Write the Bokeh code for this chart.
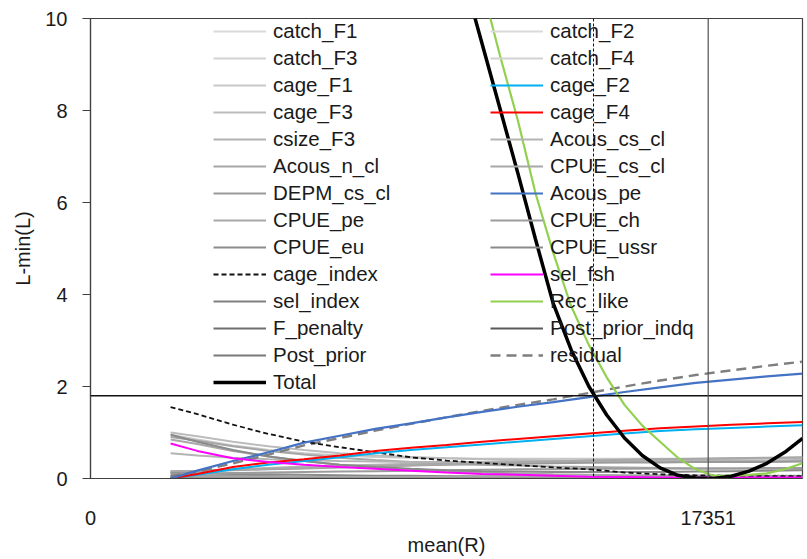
from bokeh.plotting import figure
from bokeh.models import Range1d, FixedTicker, Legend, LegendItem, Span
from bokeh.embed import file_html
from bokeh.resources import INLINE

# ---------------- data ----------------
R = [2250, 3000, 4000, 5000, 6000, 7000, 8000, 9000, 10000, 11000, 12000,
     13000, 14000, 15000, 16000, 17000, 18000, 19000, 20000]
R_fine = [10000, 10500, 11000, 11500, 12000, 12500, 13000, 13500, 14000, 14500,
          15000, 15500, 16000, 16500, 17000, 17500, 18000, 18500, 19000, 19500, 20000]

catch_F1 = [0.01] * 19
catch_F2 = [0.0] * 19
catch_F3 = [0.03, 0.03, 0.03, 0.03, 0.03, 0.03, 0.03, 0.03, 0.02, 0.02, 0.02, 0.02, 0.02, 0.02, 0.02, 0.02, 0.02, 0.02, 0.02]
catch_F4 = [0.02] * 19
cage_F1 = [0.95, 0.85, 0.72, 0.62, 0.55, 0.5, 0.47, 0.45, 0.44, 0.43, 0.43, 0.43, 0.43, 0.43, 0.43, 0.43, 0.44, 0.44, 0.45]
cage_F2 = [0.0, 0.08, 0.2, 0.3, 0.38, 0.46, 0.55, 0.62, 0.68, 0.74, 0.8, 0.86, 0.92, 0.98, 1.03, 1.07, 1.1, 1.13, 1.16]
cage_F3 = [1.0, 0.92, 0.8, 0.7, 0.62, 0.55, 0.5, 0.47, 0.44, 0.42, 0.4, 0.39, 0.38, 0.38, 0.37, 0.37, 0.37, 0.37, 0.38]
cage_F4 = [0.0, 0.1, 0.25, 0.35, 0.42, 0.5, 0.6, 0.67, 0.73, 0.8, 0.86, 0.92, 0.98, 1.04, 1.09, 1.13, 1.17, 1.2, 1.23]
csize_F3 = [0.15, 0.17, 0.2, 0.23, 0.26, 0.28, 0.3, 0.32, 0.33, 0.34, 0.35, 0.36, 0.37, 0.37, 0.38, 0.38, 0.39, 0.39, 0.4]
Acous_cs_cl = [0.55, 0.5, 0.45, 0.42, 0.4, 0.38, 0.37, 0.36, 0.36, 0.36, 0.37, 0.38, 0.39, 0.4, 0.41, 0.42, 0.43, 0.44, 0.45]
Acous_n_cl = [0.9, 0.82, 0.7, 0.6, 0.52, 0.45, 0.4, 0.36, 0.33, 0.3, 0.28, 0.26, 0.25, 0.24, 0.23, 0.22, 0.22, 0.21, 0.21]
CPUE_cs_cl = [0.16, 0.17, 0.19, 0.21, 0.23, 0.25, 0.27, 0.29, 0.31, 0.33, 0.35, 0.37, 0.39, 0.41, 0.42, 0.43, 0.44, 0.45, 0.46]
DEPM_cs_cl = [0.14, 0.15, 0.18, 0.2, 0.22, 0.24, 0.26, 0.28, 0.3, 0.31, 0.32, 0.33, 0.34, 0.35, 0.35, 0.36, 0.36, 0.36, 0.37]
Acous_pe = [0.0, 0.17, 0.38, 0.57, 0.78, 0.93, 1.08, 1.2, 1.33, 1.45, 1.56, 1.66, 1.77, 1.88, 1.98, 2.08, 2.15, 2.22, 2.28]
CPUE_pe = [0.85, 0.75, 0.6, 0.48, 0.38, 0.3, 0.24, 0.2, 0.16, 0.13, 0.11, 0.09, 0.08, 0.07, 0.06, 0.06, 0.05, 0.05, 0.05]
CPUE_ch = [0.1, 0.11, 0.12, 0.13, 0.14, 0.15, 0.16, 0.17, 0.18, 0.19, 0.2, 0.2, 0.21, 0.21, 0.22, 0.22, 0.22, 0.23, 0.23]
CPUE_eu = [0.12, 0.11, 0.1, 0.09, 0.08, 0.07, 0.06, 0.06, 0.05, 0.05, 0.05, 0.04, 0.04, 0.04, 0.04, 0.04, 0.04, 0.04, 0.04]
CPUE_ussr = [0.95, 0.8, 0.62, 0.48, 0.38, 0.3, 0.25, 0.21, 0.18, 0.16, 0.15, 0.14, 0.14, 0.14, 0.14, 0.15, 0.16, 0.17, 0.18]
cage_index = [1.55, 1.4, 1.17, 0.97, 0.8, 0.68, 0.57, 0.46, 0.39, 0.34, 0.29, 0.24, 0.2, 0.13, 0.09, 0.07, 0.06, 0.05, 0.05]
sel_fsh = [0.76, 0.6, 0.44, 0.36, 0.3, 0.25, 0.21, 0.17, 0.13, 0.1, 0.08, 0.06, 0.04, 0.03, 0.02, 0.02, 0.02, 0.02, 0.02]
sel_index = [0.05, 0.05, 0.05, 0.05, 0.04, 0.04, 0.04, 0.04, 0.04, 0.03, 0.03, 0.03, 0.03, 0.03, 0.03, 0.03, 0.03, 0.03, 0.03]
F_penalty = [0.0] * 19
Post_prior = [0.02] * 19
Post_prior_indq = [0.0] * 19
residual = [0.05, 0.15, 0.33, 0.52, 0.72, 0.88, 1.04, 1.19, 1.33, 1.47, 1.6, 1.72, 1.86, 2.0, 2.13, 2.25, 2.35, 2.45, 2.54]

Rec_like = [14.5, 12.4, 10.7, 9.2, 7.8, 6.2, 4.9, 3.75, 2.9, 2.2, 1.6, 1.15, 0.8, 0.45, 0.2, 0.06, 0.06, 0.08, 0.11, 0.2, 0.33]
Total = [12.4, 10.85, 9.45, 8.05, 6.65, 5.2, 3.8, 2.8, 2.0, 1.38, 0.88, 0.5, 0.23, 0.07, 0.01, 0.0, 0.05, 0.16, 0.33, 0.57, 0.87]

x_ticks = [0, 17351]
y_ticks = [0, 2, 4, 6, 8, 10]
R_best = 17351
R_ci_low = 14130
chi_level = 1.8

# ---------------- figure ----------------
FONT = "Liberation Sans"
TXT = "#1a1a1a"

p = figure(width=806, height=558, output_backend="svg", toolbar_location=None,
           x_range=Range1d(0, 20000), y_range=Range1d(0, 10),
           min_border_left=90, min_border_right=4, min_border_top=18, min_border_bottom=80)
p.xgrid.visible = False
p.ygrid.visible = False
p.outline_line_color = "#404040"
p.outline_line_width = 1.2
p.background_fill_color = "white"
p.border_fill_color = "white"

p.xaxis.ticker = FixedTicker(ticks=x_ticks)
p.yaxis.ticker = FixedTicker(ticks=y_ticks)
p.xaxis.axis_label = "mean(R)"
p.yaxis.axis_label = "L-min(L)"
for ax in (p.xaxis, p.yaxis):
    ax.axis_label_text_font = FONT
    ax.axis_label_text_font_size = "20px"
    ax.axis_label_text_font_style = "normal"
    ax.axis_label_text_color = TXT
    ax.major_label_text_font = FONT
    ax.major_label_text_font_size = "20px"
    ax.major_label_text_color = TXT
    ax.axis_line_color = "#404040"
    ax.axis_line_width = 1.2
    ax.minor_tick_line_color = None
    ax.major_tick_line_color = "#404040"
p.yaxis.major_tick_out = 8
p.yaxis.major_tick_in = 0
p.yaxis.major_label_standoff = 15
p.yaxis.axis_label_standoff = 8
p.xaxis.major_tick_out = 0
p.xaxis.major_tick_in = 0
p.xaxis.major_label_standoff = 32
p.xaxis.axis_label_standoff = 6

# reference lines
p.add_layout(Span(location=chi_level, dimension="width", line_color="#111111", line_width=1.5))
p.add_layout(Span(location=R_best, dimension="height", line_color="#505050", line_width=1.2))
p.add_layout(Span(location=R_ci_low, dimension="height", line_color="#111111", line_width=1, line_dash="3 2"))
p.line([R_ci_low, 20000], [0.07, 0.07], line_color="#333333", line_width=1, line_dash="2 2")

series_left = [
    ("catch_F1", catch_F1, "#dadada", "solid", 2),
    ("catch_F3", catch_F3, "#d2d2d2", "solid", 2),
    ("cage_F1", cage_F1, "#c8c8c8", "solid", 2),
    ("cage_F3", cage_F3, "#bcbcbc", "solid", 2),
    ("csize_F3", csize_F3, "#b2b2b2", "solid", 2),
    ("Acous_n_cl", Acous_n_cl, "#a6a6a6", "solid", 2),
    ("DEPM_cs_cl", DEPM_cs_cl, "#9a9a9a", "solid", 2),
    ("CPUE_pe", CPUE_pe, "#a8a8a8", "solid", 2),
    ("CPUE_eu", CPUE_eu, "#8c8c8c", "solid", 2),
    ("cage_index", cage_index, "#111111", "5 3", 1.8),
    ("sel_index", sel_index, "#808080", "solid", 2),
    ("F_penalty", F_penalty, "#6e6e6e", "solid", 2),
    ("Post_prior", Post_prior, "#787878", "solid", 2),
]
series_right = [
    ("catch_F2", catch_F2, "#dadada", "solid", 2),
    ("catch_F4", catch_F4, "#d2d2d2", "solid", 2),
    ("cage_F2", cage_F2, "#00b0f0", "solid", 2),
    ("cage_F4", cage_F4, "#ff0000", "solid", 2),
    ("Acous_cs_cl", Acous_cs_cl, "#b4b4b4", "solid", 2),
    ("CPUE_cs_cl", CPUE_cs_cl, "#a8a8a8", "solid", 2),
    ("Acous_pe", Acous_pe, "#4472c4", "solid", 2.2),
    ("CPUE_ch", CPUE_ch, "#9c9c9c", "solid", 2),
    ("CPUE_ussr", CPUE_ussr, "#8a8a8a", "solid", 2),
    ("sel_fsh", sel_fsh, "#ff00ff", "solid", 2),
]

renderers = {}
highlight = ("cage_F2", "cage_F4", "Acous_pe", "sel_fsh", "cage_index")
gray_first = [s for s in series_left + series_right if s[0] not in highlight]
colored = [s for s in series_left + series_right if s[0] in highlight]
for name, ys, col, dash, w in gray_first:
    renderers[name] = p.line(R, ys, line_color=col, line_width=w, line_dash=dash)
renderers["Post_prior_indq"] = p.line(R, Post_prior_indq, line_color="#5a5a5a", line_width=2)
renderers["residual"] = p.line(R, residual, line_color="#7f7f7f", line_width=2.4, line_dash="10 6")
for name, ys, col, dash, w in colored:
    renderers[name] = p.line(R, ys, line_color=col, line_width=w, line_dash=dash)
renderers["Rec_like"] = p.line(R_fine, Rec_like, line_color="#92d050", line_width=2.2)
renderers["Total"] = p.line(R_fine, Total, line_color="#000000", line_width=3.5)

left_names = ["catch_F1", "catch_F3", "cage_F1", "cage_F3", "csize_F3", "Acous_n_cl",
              "DEPM_cs_cl", "CPUE_pe", "CPUE_eu", "cage_index", "sel_index", "F_penalty",
              "Post_prior", "Total"]
right_names = ["catch_F2", "catch_F4", "cage_F2", "cage_F4", "Acous_cs_cl", "CPUE_cs_cl",
               "Acous_pe", "CPUE_ch", "CPUE_ussr", "sel_fsh", "Rec_like", "Post_prior_indq",
               "residual"]

frame_h = 460
def make_legend(names, x_off):
    n = len(names)
    h = n * 24 + (n - 1) * 3
    leg = Legend(items=[LegendItem(label=nm, renderers=[renderers[nm]]) for nm in names],
                 location=(x_off, frame_h - 1 - h),
                 glyph_width=53, glyph_height=24, label_height=24, spacing=3,
                 label_standoff=7, padding=0, margin=0,
                 label_text_font=FONT, label_text_font_size="20.5px", label_text_color=TXT,
                 background_fill_alpha=0, border_line_color=None)
    p.add_layout(leg, "center")

make_legend(left_names, 123)
make_legend(right_names, 400)

open("out.html", "w").write(file_html(p, INLINE))
